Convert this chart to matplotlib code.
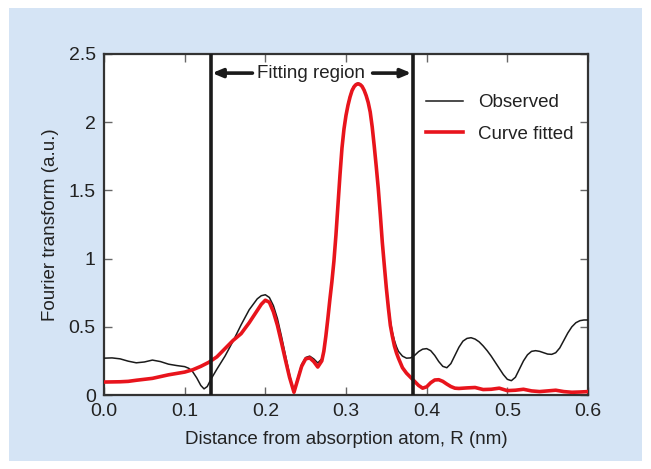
import matplotlib
matplotlib.use("Agg")
import matplotlib.pyplot as plt
from matplotlib.patches import Rectangle

plt.rcParams['font.family'] = ['Liberation Sans', 'DejaVu Sans']

# ---- data ----
obs_r = [0.000, 0.010, 0.020, 0.030, 0.040, 0.050, 0.060, 0.070, 0.080, 0.090,
         0.100, 0.105, 0.110, 0.115, 0.120, 0.124, 0.128, 0.133, 0.140, 0.150,
         0.160, 0.170, 0.180, 0.190, 0.195, 0.200, 0.205, 0.210, 0.215, 0.220,
         0.225, 0.230, 0.235, 0.240, 0.245, 0.250, 0.255, 0.260, 0.265,
         0.2700, 0.2725, 0.2750, 0.2775, 0.2800, 0.2825, 0.2850, 0.2875, 0.2900,
         0.2925, 0.2950, 0.2975, 0.3000, 0.3025, 0.3050, 0.3075, 0.3100, 0.3125,
         0.3150, 0.3175, 0.3200, 0.3225, 0.3250, 0.3275, 0.3300, 0.3325, 0.3350,
         0.3375, 0.3400, 0.3425, 0.3450, 0.3475, 0.3500, 0.3525, 0.3550, 0.3575,
         0.3600, 0.3625, 0.3650, 0.370,
         0.375, 0.380, 0.385, 0.390, 0.395, 0.400, 0.405, 0.410, 0.415, 0.420,
         0.425, 0.430, 0.435, 0.440, 0.445, 0.450, 0.455, 0.460, 0.465, 0.470,
         0.475, 0.480, 0.485, 0.490, 0.495, 0.500, 0.505, 0.510, 0.515, 0.520,
         0.525, 0.530, 0.535, 0.540, 0.545, 0.550, 0.555, 0.560, 0.565, 0.570,
         0.575, 0.580, 0.585, 0.590, 0.595, 0.600]
obs_val = [0.270, 0.272, 0.265, 0.248, 0.236, 0.242, 0.256, 0.245, 0.226, 0.216,
           0.208, 0.196, 0.170, 0.125, 0.070, 0.045, 0.062, 0.120, 0.190, 0.285,
           0.395, 0.515, 0.625, 0.705, 0.728, 0.735, 0.715, 0.655, 0.560, 0.430,
           0.290, 0.150, 0.025, 0.120, 0.225, 0.275, 0.285, 0.265, 0.235,
           0.265, 0.330, 0.440, 0.570, 0.710, 0.840, 0.990, 1.180, 1.400,
           1.620, 1.820, 1.960, 2.060, 2.135, 2.195, 2.240, 2.268, 2.282,
           2.287, 2.282, 2.268, 2.240, 2.200, 2.150, 2.080, 1.970, 1.830,
           1.680, 1.520, 1.330, 1.130, 0.960, 0.800, 0.660, 0.540, 0.460,
           0.400, 0.355, 0.320, 0.285,
           0.270, 0.272, 0.290, 0.318, 0.336, 0.340, 0.325, 0.290, 0.245, 0.210,
           0.200, 0.230, 0.290, 0.350, 0.395, 0.415, 0.420, 0.410, 0.390, 0.360,
           0.325, 0.285, 0.240, 0.195, 0.150, 0.115, 0.105, 0.130, 0.190, 0.250,
           0.295, 0.320, 0.325, 0.320, 0.310, 0.300, 0.298, 0.310, 0.345, 0.400,
           0.455, 0.500, 0.530, 0.545, 0.550, 0.550]

fit_r = [0.000, 0.010, 0.020, 0.030, 0.040, 0.050, 0.060, 0.070, 0.080, 0.090,
         0.100, 0.110, 0.120, 0.130, 0.140, 0.150, 0.160, 0.170, 0.180, 0.190,
         0.195, 0.200, 0.205, 0.210, 0.215, 0.220, 0.225, 0.230, 0.2355, 0.240,
         0.245, 0.250, 0.255, 0.260, 0.265,
         0.2700, 0.2725, 0.2750, 0.2775, 0.2800, 0.2825, 0.2850, 0.2875, 0.2900,
         0.2925, 0.2950, 0.2975, 0.3000, 0.3025, 0.3050, 0.3075, 0.3100, 0.3125,
         0.3150, 0.3175, 0.3200, 0.3225, 0.3250, 0.3275, 0.3300, 0.3325, 0.3350,
         0.3375, 0.3400, 0.3425, 0.3450, 0.3475, 0.3500, 0.3525, 0.3550, 0.3575,
         0.3600, 0.3625, 0.3650, 0.370, 0.375, 0.380, 0.385, 0.390,
         0.395, 0.400, 0.405, 0.410, 0.415, 0.420, 0.425, 0.430, 0.435, 0.440,
         0.450, 0.460, 0.470, 0.480, 0.490, 0.500, 0.510, 0.520, 0.530, 0.540,
         0.550, 0.560, 0.570, 0.580, 0.590, 0.600]
fit_val = [0.095, 0.096, 0.097, 0.100, 0.108, 0.115, 0.122, 0.135, 0.148, 0.158,
           0.168, 0.185, 0.210, 0.240, 0.280, 0.340, 0.400, 0.450, 0.530, 0.620,
           0.665, 0.695, 0.680, 0.610, 0.510, 0.385, 0.255, 0.130, 0.020, 0.110,
           0.210, 0.265, 0.272, 0.245, 0.205,
           0.250, 0.320, 0.430, 0.560, 0.700, 0.830, 0.980, 1.170, 1.390,
           1.610, 1.810, 1.950, 2.050, 2.125, 2.185, 2.232, 2.260, 2.276,
           2.281, 2.276, 2.262, 2.234, 2.195, 2.145, 2.075, 1.965, 1.825,
           1.675, 1.515, 1.325, 1.120, 0.950, 0.785, 0.640, 0.510, 0.430,
           0.360, 0.310, 0.270, 0.200, 0.160, 0.130, 0.100, 0.070,
           0.050, 0.060, 0.090, 0.110, 0.112, 0.100, 0.080, 0.062, 0.050, 0.048,
           0.052, 0.055, 0.040, 0.042, 0.050, 0.032, 0.035, 0.042, 0.030, 0.025,
           0.030, 0.035, 0.025, 0.020, 0.022, 0.025]

fit_region = [0.133, 0.383]
x_ticks = [0.0, 0.1, 0.2, 0.3, 0.4, 0.5, 0.6]
x_labels = ['0.0', '0.1', '0.2', '0.3', '0.4', '0.5', '0.6']
y_ticks = [0, 0.5, 1, 1.5, 2, 2.5]
y_labels = ['0', '0.5', '1', '1.5', '2', '2.5']

# ---- figure ----
W, H = 651, 469
fig = plt.figure(figsize=(W / 100, H / 100), dpi=100, facecolor='white')
bg = Rectangle((9 / W, 8 / H), (642 - 9) / W, (461 - 8) / H,
               transform=fig.transFigure, facecolor='#d5e4f5',
               edgecolor='none', zorder=-10)
fig.patches.append(bg)

ax = fig.add_axes([104 / W, 1 - 395 / H, (588 - 104) / W, (395 - 54) / H])
ax.set_zorder(5)
ax.set_facecolor('white')

ax.plot(obs_r, obs_val, color='#1a1a1a', lw=1.1, label='Observed', zorder=3)
ax.plot(fit_r, fit_val, color='#e8141c', lw=2.6, label='Curve fitted', zorder=4)

for xv in fit_region:
    ax.axvline(xv, color='#1a1a1a', lw=2.6, zorder=5)

ax.set_xlim(0, 0.6)
ax.set_ylim(0, 2.5)
ax.set_xticks(x_ticks)
ax.set_xticklabels(x_labels)
ax.set_yticks(y_ticks)
ax.set_yticklabels(y_labels)

ax.tick_params(direction='in', top=True, right=True, length=6, width=1,
               color='#666666', labelsize=14, labelcolor='#222222', pad=6)
for s in ax.spines.values():
    s.set_linewidth(1.6)
    s.set_color('#333333')

ax.set_xlabel('Distance from absorption atom, R (nm)', fontsize=13.5,
              color='#222222', labelpad=8)
ax.set_ylabel('Fourier transform (a.u.)', fontsize=13.5, color='#222222',
              labelpad=7)

# fitting region annotation
mid = 0.2566
ytxt = 2.36
ax.text(mid, ytxt, 'Fitting region', ha='center', va='center', fontsize=13.5,
        color='#222222', zorder=6)
ax.annotate('', xy=(fit_region[0] + 0.001, ytxt), xytext=(0.184, ytxt),
            arrowprops=dict(arrowstyle='-|>,head_length=0.6,head_width=0.25',
                            lw=2.6, color='#1a1a1a', shrinkA=0, shrinkB=0))
ax.annotate('', xy=(fit_region[1] - 0.002, ytxt), xytext=(0.333, ytxt),
            arrowprops=dict(arrowstyle='-|>,head_length=0.6,head_width=0.25',
                            lw=2.6, color='#1a1a1a', shrinkA=0, shrinkB=0))

leg = ax.legend(loc='upper right', bbox_to_anchor=(1.005, 0.932), frameon=False,
                fontsize=13.5, handlelength=2.0, handletextpad=0.8,
                labelspacing=0.78)
for t in leg.get_texts():
    t.set_color('#222222')

fig.savefig('out.png', dpi=100, facecolor='white')
